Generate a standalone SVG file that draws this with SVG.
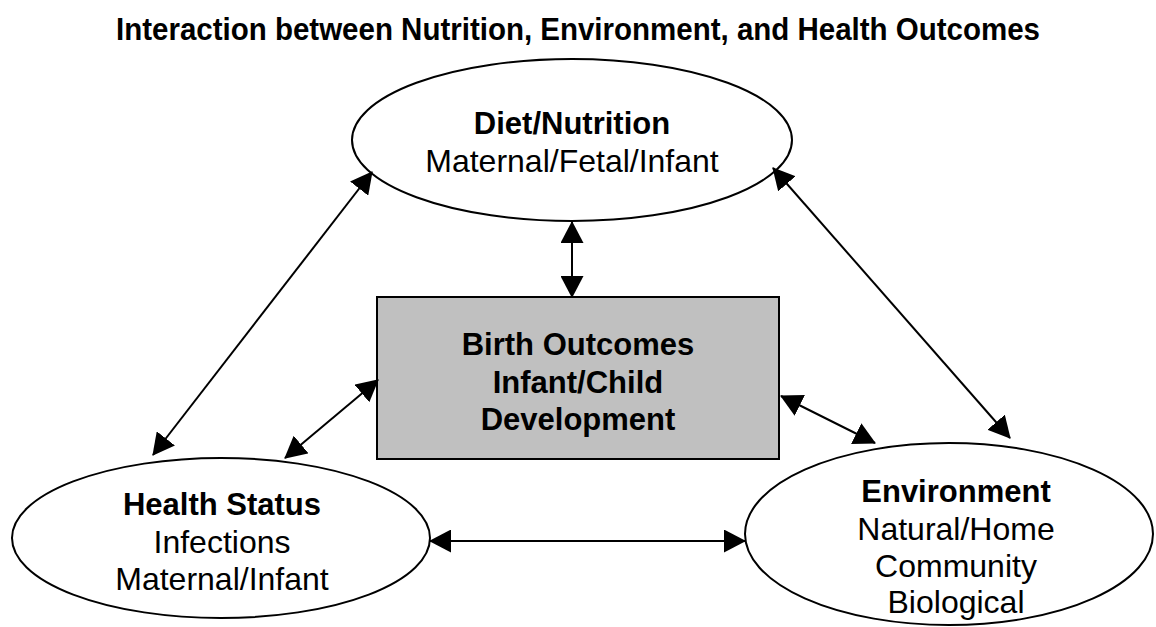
<svg xmlns="http://www.w3.org/2000/svg" width="1156" height="627" viewBox="0 0 1156 627">
  <defs>
    <marker id="ah" markerUnits="userSpaceOnUse" markerWidth="23" markerHeight="23" refX="21" refY="11.5" orient="auto-start-reverse" viewBox="0 0 23 23">
      <path d="M0,0 L22,11.5 L0,23 z" fill="#000"/>
    </marker>
    <style>
      .t { font-family: "Liberation Sans", Arial, sans-serif; fill: #000; text-anchor: middle; }
      .b { font-weight: bold; font-size: 31px; }
      .r { font-size: 32px; }
      .node { fill: #fff; stroke: #000; stroke-width: 2; }
      .box { fill: #c0c0c0; stroke: #000; stroke-width: 2; }
      .c line { stroke: #000; stroke-width: 2; marker-start: url(#ah); marker-end: url(#ah); }
    </style>
  </defs>
  <rect width="1156" height="627" fill="#fff"/>
  <text class="t" x="578" y="40" font-size="32" font-weight="bold" textLength="924" lengthAdjust="spacingAndGlyphs">Interaction between Nutrition, Environment, and Health Outcomes</text>

  <g id="diet">
    <ellipse class="node" cx="572" cy="140" rx="220" ry="81"/>
    <text class="t b" x="572" y="134">Diet/Nutrition</text>
    <text class="t r" x="572" y="172">Maternal/Fetal/Infant</text>
  </g>
  <g id="birth">
    <rect class="box" x="377" y="297" width="402" height="162"/>
    <text class="t b" x="578" y="355">Birth Outcomes</text>
    <text class="t b" x="578" y="393">Infant/Child</text>
    <text class="t b" x="578" y="430">Development</text>
  </g>
  <g id="health">
    <ellipse class="node" cx="221" cy="538" rx="209" ry="80"/>
    <text class="t b" x="222" y="515">Health Status</text>
    <text class="t r" x="222" y="553">Infections</text>
    <text class="t r" x="222" y="590">Maternal/Infant</text>
  </g>
  <g id="environment">
    <ellipse class="node" cx="949" cy="534" rx="204" ry="91"/>
    <text class="t b" x="956" y="502">Environment</text>
    <text class="t r" x="956" y="540">Natural/Home</text>
    <text class="t r" x="956" y="577">Community</text>
    <text class="t r" x="956" y="613">Biological</text>
  </g>

  <g id="connectors" class="c">
    <line x1="572" y1="222" x2="572" y2="297"/>
    <line x1="372" y1="172" x2="153" y2="455"/>
    <line x1="378" y1="380" x2="285" y2="458"/>
    <line x1="773" y1="168" x2="1010" y2="438"/>
    <line x1="781" y1="396" x2="875" y2="443"/>
    <line x1="430" y1="541" x2="745" y2="541"/>
  </g>
</svg>
